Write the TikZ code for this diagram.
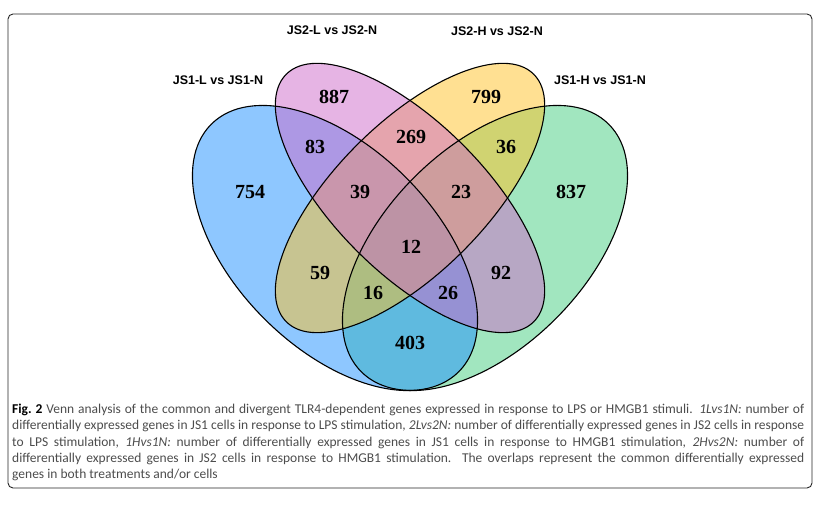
\documentclass[tikz,border=0pt]{standalone}
\usepackage{fontspec}
\setmainfont{Liberation Serif}
\newfontfamily\labelfont{Liberation Sans}
\newfontfamily\captionfont{Carlito}
\usepackage{xcolor}
\definecolor{dodgerblue}{RGB}{30,144,255}
\definecolor{orchidthree}{RGB}{205,105,201}
\definecolor{goldenrodone}{RGB}{255,193,37}
\definecolor{seagreenthree}{RGB}{67,205,128}
\hbadness=10000

\begin{document}
\begin{tikzpicture}[x=1pt, y=1pt]
\tikzset{
  setfill/.style = {fill opacity=0.5},
  outline/.style = {draw, line width=1.1pt},
  count/.style = {font=\fontsize{20}{20}\selectfont\bfseries, inner sep=0pt},
  setname/.style = {font=\labelfont\fontsize{12.5}{12.5}\selectfont\bfseries, inner sep=0pt},
  caption/.style = {font=\captionfont\fontsize{13.5}{16.3}\selectfont, text width=792pt, align=justify, inner sep=0pt, anchor=north west, text=black!70}
}
\useasboundingbox (0,0) rectangle (830,516);
% frame
\draw [rounded corners=5pt, line width=0.9pt, black!85] (8,28) rectangle (812,502);
% the four sets, fills first
\fill [setfill, seagreenthree] (485,268) ellipse [x radius=175, y radius=100, rotate=45];
\fill [setfill, dodgerblue] (335,268) ellipse [x radius=175, y radius=100, rotate=-45];
\fill [setfill, goldenrodone] (410,318) ellipse [x radius=175, y radius=75, rotate=45];
\fill [setfill, orchidthree] (410,318) ellipse [x radius=175, y radius=75, rotate=-45];
\path [outline] (485,268) ellipse [x radius=175, y radius=100, rotate=45];
\path [outline] (335,268) ellipse [x radius=175, y radius=100, rotate=-45];
\path [outline] (410,318) ellipse [x radius=175, y radius=75, rotate=45];
\path [outline] (410,318) ellipse [x radius=175, y radius=75, rotate=-45];
% set names
\node [setname] (js1l) at (218,436) {JS1-L vs JS1-N};
\node [setname] (js2l) at (332,486) {JS2-L vs JS2-N};
\node [setname] (js2h) at (497,485) {JS2-H vs JS2-N};
\node [setname] (js1h) at (600,436) {JS1-H vs JS1-N};
% counts
\node [count] (n887) at (334,419) {887};
\node [count] (n799) at (486,419) {799};
\node [count] (n83) at (315,369) {83};
\node [count] (n269) at (411,379) {269};
\node [count] (n36) at (506,369) {36};
\node [count] (n754) at (250,324) {754};
\node [count] (n39) at (360,324) {39};
\node [count] (n23) at (461,324) {23};
\node [count] (n837) at (571,324) {837};
\node [count] (n12) at (411,269) {12};
\node [count] (n59) at (320,243) {59};
\node [count] (n92) at (501,243) {92};
\node [count] (n16) at (373,223) {16};
\node [count] (n26) at (448,223) {26};
\node [count] (n403) at (410,173) {403};
% caption
\node [caption] (cap) at (12,112) {{\color{black}\bfseries Fig.~2} Venn analysis of the common and divergent TLR4-dependent genes expressed in response to LPS or HMGB1 stimuli. \textit{1Lvs1N:} number of\linebreak
differentially expressed genes in JS1 cells in response to LPS stimulation, \textit{2Lvs2N:} number of differentially expressed genes in JS2 cells in response\linebreak
to LPS stimulation, \textit{1Hvs1N:} number of differentially expressed genes in JS1 cells in response to HMGB1 stimulation, \textit{2Hvs2N:} number of\linebreak
differentially expressed genes in JS2 cells in response to HMGB1 stimulation. The overlaps represent the common differentially expressed\linebreak
genes in both treatments and/or cells};
\end{tikzpicture}
\end{document}
